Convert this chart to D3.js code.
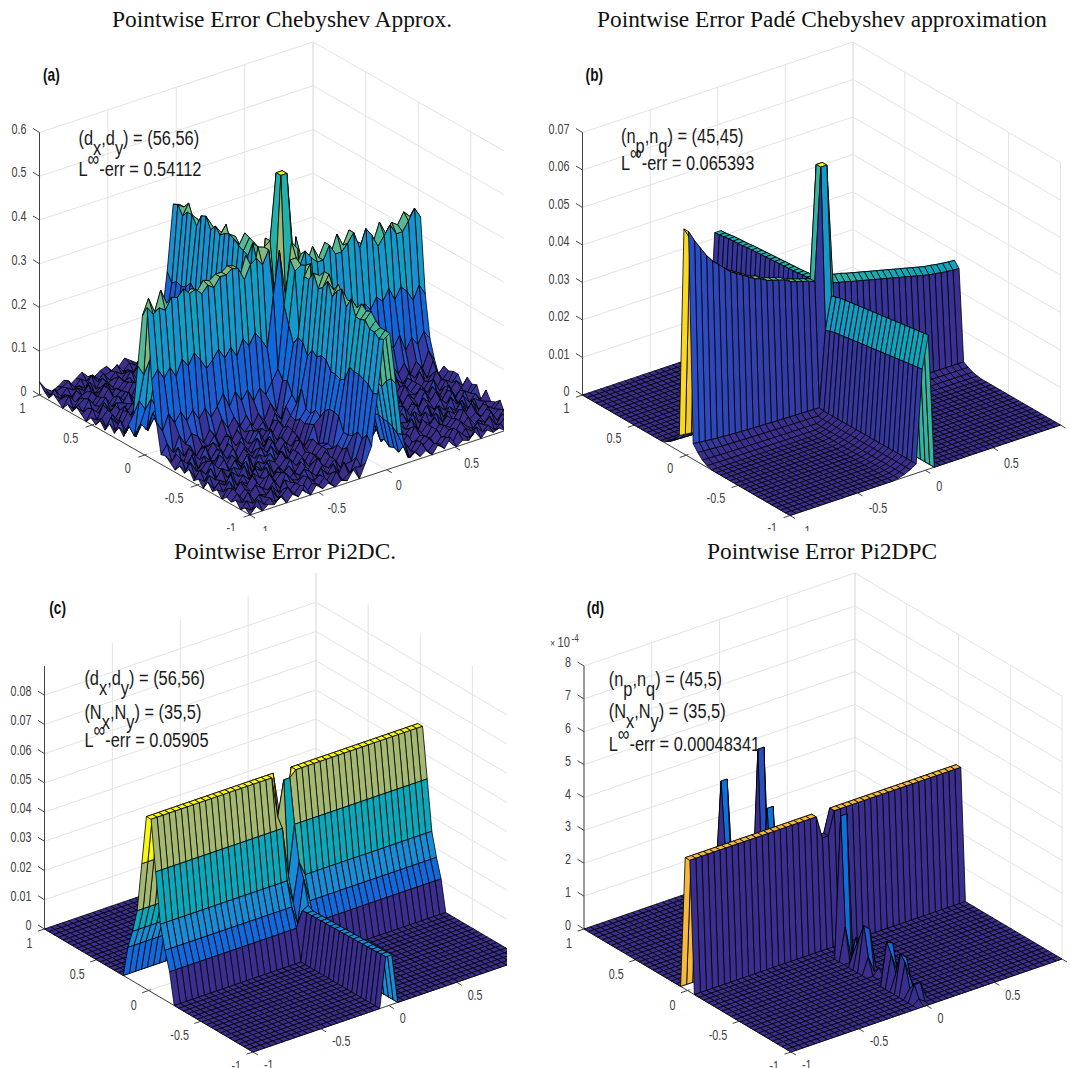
<!DOCTYPE html>
<html>
<head>
<meta charset="utf-8">
<script src="https://cdn.jsdelivr.net/npm/d3@7"></script>
<style>
  body { margin: 0; background: #fff; }
  text { font-family: "Liberation Sans", Arial, sans-serif; }
  .title { font-family: "Liberation Serif", serif; font-size: 24px; fill: #111; }
  .tick { font-size: 14px; fill: #404040; }
  .note { font-size: 21px; fill: #1a1a1a; }
  .tag { font-size: 18px; font-weight: bold; fill: #111; }
</style>
</head>
<body>
<svg id="chart" width="1070" height="1068"></svg>
<script>
// Surface grid: 46 x 46 nodes over [-1,1]^2, ridges sit on nodes 22/23
const nodeCount = 46;
const xyTicks = [-1, -0.5, 0, 0.5, 1];
const zTicksA = [0, 0.1, 0.2, 0.3, 0.4, 0.5, 0.6];
const zTicksB = [0, 0.01, 0.02, 0.03, 0.04, 0.05, 0.06, 0.07];
const zTicksC = [0, 0.01, 0.02, 0.03, 0.04, 0.05, 0.06, 0.07, 0.08];
const zTicksD = [0, 1, 2, 3, 4, 5, 6, 7, 8];

// (a) ridge tops along each ridge, wall steps, floor ripple (digit * 0.005)
const topAlongXA = [.305,.31,.3,.315,.305,.32,.31,.325,.31,.32,.315,.33,.315,.335,.32,.335,.33,.345,.335,.35,.34,.35,.36,.36,.31,.3,.31,.305,.315,.305,.31,.3,.315,.305,.31,.3,.315,.31,.305,.315,.31,.3,.315,.31,.32,.325];
const topAlongYA = [.3,.295,.305,.295,.31,.3,.305,.31,.305,.315,.31,.32,.315,.325,.32,.33,.325,.335,.33,.34,.345,.35,.36,.36,.31,.315,.31,.305,.315,.31,.305,.315,.31,.32,.31,.315,.32,.31,.32,.315,.31,.32,.315,.32,.325,.33];
const wallStepsA = [.165, .06, .012];
const rippleA = [
  "0302140315041302150413025204130415021403120314",
  "2041302514031405024152036140250314052041302503",
  "0314250314052403160425014306152403150314250412",
  "3150214053142051503146250416031425031520315041",
  "1402531406215304250617251406250315042514025130",
  "2503140625031406152407361527041625031406130425",
  "0415260314251503261508270416351406250415261403",
  "3150315260416250415261837160425260315042615032",
  "1426041536025160425370461825160436152604150426",
  "4031526041537260315271936270415361526041625140",
  "0526153604261503726051847160526037260415260536",
  "3160426270537261604815272816370426151637260415",
  "1527360415263715260736948250715263604172516037",
  "5036271526041736271604385163726041526371604252",
  "2614037260517260483716295738160527160436271536",
  "4170526371604827160592648316075260481736250416",
  "1526270418362715384617395827361648271536041725",
  "3607152637481605273948162948371605372816270436",
  "5172604371628473618294758162739482716052637180",
  "2618375162948371629483729461837294615283716294",
  "6183726150492837162749385162738491627384916273",
  "3726184950372618495027386149275038162749385061",
  "7261849372618495037286149385027416938502741693",
  "2839405162738495061728394051627384950617283940",
  "6172839405162738495061728394051627384950617283",
  "3948271605948372610594837261059483726105948372",
  "7162938405172639485071629384051726394850716293",
  "3816270495381627049538162704953816270495381627",
  "6274938150627493815062749381506274938150627493",
  "2716384950271638495027163849502716384950271638",
  "5138274061513827406151382740615138274061513827",
  "1627360415162736041516273604151627360415162736",
  "4051726304405172630440517263044051726304405172",
  "1360425271360425271360425271360425271360425271",
  "3172504163172504163172504163172504163172504163",
  "0526143706052614370605261437060526143706052614",
  "2403615240361524036152403615240361524036152403",
  "4162503141625031416250314162503141625031416250",
  "1350426130504261305042613050426130504261305042",
  "3041526031415260314152603141526031415260314152",
  "0513402510340251034025103402510340251034025103",
  "2304150230415023041502304150230415023041502304",
  "4120314041203140412031404120314041203140412031",
  "1403120514031205140312051403120514031205140312",
  "3012403130124031301240313012403130124031301240",
  "6201302410230142013024102301420130241023014201"
];
const spiresA = [[22,22,.541],[23,22,.541],[22,23,.541],[23,23,.541],[21,21,.38],[21,22,.27],[22,21,.27],[20,20,.12],[20,21,.28],[21,20,.26],[21,24,.39],[24,21,.37],[20,23,.38],[23,20,.36],[24,26,.35],[26,24,.37],[19,22,.35],[22,19,.34],[22,18,.2],[21,19,.22],[23,16,.12],[18,23,.3]];

// (b) ridge tops, wall foot as fractions of the top, central peak
const topAlongXB = [.06,.057,.0545,.052,.05,.0485,.047,.0455,.0445,.0435,.0425,.0415,.041,.04,.0395,.039,.0385,.0375,.037,.0365,.036,.0354,.034,.034,.0335,.033,.0327,.0322,.0318,.0314,.031,.0306,.0302,.0298,.0294,.029,.0286,.0282,.0278,.0274,.027,.0268,.0265,.0263,.0261,.026];
const topAlongYB = [.0358,.0356,.0354,.0352,.035,.0348,.0346,.0344,.0342,.034,.0338,.0336,.0334,.0332,.033,.0328,.0326,.0324,.0322,.032,.0316,.0312,.034,.034,.034,.0339,.0338,.0336,.0335,.0334,.0333,.0332,.0331,.033,.0329,.0328,.0327,.0326,.0325,.0323,.0322,.0321,.032,.0318,.0316,.0315];
const wallFootB = [.07, .042, .02, .007];
const frontTiltB = .0086;   // the y<0 ridge top leans: node 22 sits this far below node 23
const rearTiltB = .0015;    // the x>0 ridge top leans: node j=23 sits this far above j=22
const peakB = [[22,22,.065393],[23,22,.065393],[22,23,.065393],[23,23,.065393]];

// (c) wall steps of the tall ridge, height of the low ridge, centre nodes
const wallStepsC = [.05905, .042, .025, .017, .0106];
const lowRidgeC = [.017,.017,.0168,.0168,.0167,.0167,.0166,.0166,.0165,.0165,.0164,.0164,.0163,.0163,.0162,.0162,.0161,.0161,.016,.016,.0158,.0158];
const centreC = [[21,22,.045],[22,22,.057],[23,22,.057],[22,23,.045],[23,23,.045],[22,21,.025],[23,21,.042],[22,20,.017],[23,20,.03],[22,19,.0106],[23,19,.025],[22,18,.016],[23,18,.017]];

// (d) wall height in units of 1e-4, dip in the wall and the isolated peaks
const wallD = 4.0;
const peaksD = [
  [22,22,3.3],[23,22,3.3],[22,23,3.3],[23,23,3.3],
  [22,44,3.2],[23,44,3.2],[22,43,1],
  [22,36,4.8341],[23,36,4.8341],[22,35,.3],
  [22,34,3.2],[23,34,3.2],[22,33,1],
  [22,18,4.3],[23,18,4.3],[22,17,1],[23,16,.7],[22,15,.5],
  [22,14,.9],[23,14,.8],[22,13,1.38],[23,13,1.2],[22,12,.5],[23,11,.2],
  [22,8,1.3],[23,8,1.2],[22,7,1],[23,7,.4],[22,6,.5],
  [22,5,1.2],[23,5,1],[22,4,1],[23,4,.4],[22,3,.3],
  [22,2,.5],[23,2,.5],[22,1,.15]
];
const darkCellsD = ["21,22", "22,22", "23,22"];   // the dip in the wall is dark throughout

const titles = ["Pointwise Error Chebyshev Approx.", "Pointwise Error Padé Chebyshev approximation", "Pointwise Error Pi2DC.", "Pointwise Error Pi2DPC"];
const tags = ["(a)", "(b)", "(c)", "(d)"];
const notesA = [[["(d"],["x",1],[",d"],["y",1],[") = (56,56)"]], [["L"],["∞",-1],["-err = 0.54112"]]];
const notesB = [[["(n"],["p",1],[",n"],["q",1],[") = (45,45)"]], [["L"],["∞",-1],["-err = 0.065393"]]];
const notesC = [[["(d"],["x",1],[",d"],["y",1],[") = (56,56)"]], [["(N"],["x",1],[",N"],["y",1],[") = (35,5)"]], [["L"],["∞",-1],["-err = 0.05905"]]];
const notesD = [[["(n"],["p",1],[",n"],["q",1],[") = (45,5)"]], [["(N"],["x",1],[",N"],["y",1],[") = (35,5)"]], [["L"],["∞",-1],["-err = 0.00048341"]]];

// colour ramp, as fraction of the panel's largest value
const rampStops = [0, .025, .065, .2, .3, .42, .53, .62, .72, .83, 1];
const rampColors = ["#3a2e8e", "#3a2e8e", "#2a4fc8", "#0c6ee0", "#1a90d2", "#0ca7bb", "#2bb3a3", "#6fbb8a", "#a9b86f", "#f7ba3c", "#f9f90f"];

const svg = d3.select("#chart");
const unit = d3.scaleLinear().domain([-1, 1]).range([0, 1]);
const nodeToAxis = d3.scaleLinear().domain([0, nodeCount - 1]).range([-1, 1]);
const ramp = d3.scaleLinear().domain(rampStops).range(rampColors).clamp(true);
const rowsOff = (k) => (k <= 22 ? 22 - k : k - 23);

function withNodes(base, nodes) {
  const m = d3.range(nodeCount).map((j) => d3.range(nodeCount).map((i) => base(i, j)));
  nodes.forEach(([i, j, z]) => { m[j][i] = z; });
  return m;
}

const surfaceA = withNodes((i, j) => {
  const dj = rowsOff(j), di = rowsOff(i);
  const along = dj === 0 ? topAlongXA[i] : (wallStepsA[dj - 1] || 0);
  const across = di === 0 ? topAlongYA[j] : (wallStepsA[di - 1] || 0);
  return Math.max(along, across) + (+rippleA[j][i] || 0) * 0.005;
}, spiresA);

const surfaceB = withNodes((i, j) => {
  const dj = rowsOff(j);
  const along = dj === 0 ? topAlongXB[i] + (j === 23 && i > 23 ? rearTiltB : 0)
    : topAlongXB[i] * (wallFootB[dj - 1] || 0);
  let across = 0;
  if (i === 23) across = topAlongYB[j];
  else if (i === 22) across = topAlongYB[j] - (j < 22 ? frontTiltB : 0);
  else if (i < 22) across = topAlongYB[j] * (wallFootB[21 - i] || 0);
  return Math.max(along, across);
}, peakB);

const surfaceC = withNodes((i, j) => {
  const along = wallStepsC[rowsOff(j)] || 0;
  const across = (i === 22 || i === 23) && j < 22 ? lowRidgeC[j] : 0;
  return Math.max(along, across);
}, centreC);

const surfaceD = withNodes((i, j) => (rowsOff(j) === 0 ? wallD : 0), peaksD);

function drawPanel(p) {
  const g = svg.append("g");
  g.attr("clip-path", `url(#clip-${p.id})`);
  svg.append("clipPath").attr("id", `clip-${p.id}`).append("rect")
    .attr("x", p.clip[0]).attr("y", p.clip[1])
    .attr("width", p.clip[2] - p.clip[0]).attr("height", p.clip[3] - p.clip[1]);

  const zScale = d3.scaleLinear().domain([0, p.zTop]).range([0, p.height]);
  const project = (x, y, z) => {
    const fx = unit(x), fy = unit(y);
    return [
      p.front[0] + fx * (p.right[0] - p.front[0]) + fy * (p.left[0] - p.front[0]),
      p.front[1] + fx * (p.right[1] - p.front[1]) + fy * (p.left[1] - p.front[1]) - zScale(z)
    ];
  };
  const line = (a, b, color, width) => g.append("line")
    .attr("x1", a[0]).attr("y1", a[1]).attr("x2", b[0]).attr("y2", b[1])
    .attr("stroke", color).attr("stroke-width", width);

  // back walls and floor
  const gridColor = "#e3e3e3";
  p.zTicks.forEach((t) => {
    line(project(-1, 1, t), project(1, 1, t), gridColor, 1);
    line(project(1, 1, t), project(1, -1, t), gridColor, 1);
  });
  xyTicks.forEach((t) => {
    line(project(t, 1, 0), project(t, 1, p.zTop), gridColor, 1);
    line(project(1, t, 0), project(1, t, p.zTop), gridColor, 1);
    line(project(t, -1, 0), project(t, 1, 0), gridColor, 1);
    line(project(-1, t, 0), project(1, t, 0), gridColor, 1);
  });

  // axes and tick marks
  const axisColor = "#444";
  line(project(-1, 1, 0), project(-1, 1, p.zTop), axisColor, 1);
  line(project(-1, -1, 0), project(-1, 1, 0), axisColor, 1);
  line(project(-1, -1, 0), project(1, -1, 0), axisColor, 1);
  p.zTicks.forEach((t) => {
    const [x, y] = project(-1, 1, t);
    line([x, y], [x - 6.5, y - 4], axisColor, 1);
    g.append("text").attr("class", "tick")
      .attr("transform", `translate(${x - 13},${y - 4}) scale(.77,1)`)
      .attr("text-anchor", "end").attr("dy", ".36em").text(t);
  });
  xyTicks.forEach((t) => {
    const [ax, ay] = project(-1, t, 0);
    line([ax - 6.5, ay + 2.2], [ax + 2, ay - 0.7], axisColor, 1);
    g.append("text").attr("class", "tick")
      .attr("transform", `translate(${ax - 14 + p.nudgeY[0]},${ay + 12.5 + p.nudgeY[1]}) scale(.77,1)`)
      .attr("text-anchor", "end").attr("dy", ".36em").text(t);
    const [bx, by] = project(t, -1, 0);
    line([bx, by], [bx + 5, by + 3], axisColor, 1);
    g.append("text").attr("class", "tick")
      .attr("transform", `translate(${bx + 9 + p.nudgeX[0]},${by + 15.5 + p.nudgeX[1]}) scale(.77,1)`)
      .attr("text-anchor", "start").attr("dy", ".36em").text(t);
  });

  // surface: back cells first, colour taken from each cell's low corner
  const cells = [];
  for (let j = nodeCount - 2; j >= 0; j--) {
    for (let i = nodeCount - 2; i >= 0; i--) cells.push([i, j]);
  }
  const dark = p.darkCells || [];
  const pt = (i, j) => project(nodeToAxis(i), nodeToAxis(j), p.surface[j][i]);
  g.append("g").selectAll("path").data(cells).join("path")
    .attr("d", ([i, j]) => "M" + [pt(i, j), pt(i + 1, j), pt(i + 1, j + 1), pt(i, j + 1)].map((c) => c[0].toFixed(2) + "," + c[1].toFixed(2)).join("L") + "Z")
    .attr("fill", ([i, j]) => ramp(dark.includes(i + "," + j) ? 0 : p.surface[j][i] / p.zMax))
    .attr("stroke", "#000").attr("stroke-width", 0.8).attr("stroke-linejoin", "round");

  // texts
  svg.append("text").attr("class", "title")
    .attr("x", p.title[0]).attr("y", p.title[2])
    .attr("textLength", p.title[1] - p.title[0]).attr("lengthAdjust", "spacingAndGlyphs")
    .text(titles[p.id]);
  svg.append("text").attr("class", "tag")
    .attr("transform", `translate(${p.tag[0]},${p.tag[1]}) scale(.76,1)`).text(tags[p.id]);
  p.notes.forEach((parts, n) => {
    const text = svg.append("text").attr("class", "note")
      .attr("transform", `translate(${p.noteX},${p.noteY[n]}) scale(.78,1)`);
    let shift = 0;
    parts.forEach(([s, mode]) => {
      const target = mode === 1 ? 10 : mode === -1 ? -10 : 0;
      text.append("tspan").attr("dy", target - shift).text(s);
      shift = target;
    });
  });
}

const panels = [
  { id: 0, surface: surfaceA, zMax: .54112, zTop: .6, zTicks: zTicksA,
    left: [39.5, 395], front: [250, 515], right: [523.5, 424.5], height: 262.5, nudgeX: [0, 0], nudgeY: [0, 0],
    clip: [0, 0, 504, 531], title: [112, 452, 27], tag: [43, 81], notes: notesA, noteX: 78.5, noteY: [145, 176] },
  { id: 1, surface: surfaceB, zMax: .065393, zTop: .07, zTicks: zTicksB,
    left: [582.5, 395], front: [790, 515.5], right: [1060.5, 425], height: 262.5, nudgeX: [2, 0], nudgeY: [1, 0],
    clip: [540, 0, 1068, 531], title: [597, 1047, 27], tag: [585.6, 81], notes: notesB, noteX: 621, noteY: [143, 170] },
  { id: 2, surface: surfaceC, zMax: .05905, zTop: .09, zTicks: zTicksC,
    left: [44.5, 929], front: [253, 1052], right: [524.5, 959], height: 263, nudgeX: [2, -3], nudgeY: [2, 1.5],
    clip: [0, 535, 507, 1068], title: [174, 396, 559], tag: [49.3, 613.5], notes: notesC, noteX: 84.4, noteY: [685, 719, 746.6] },
  { id: 3, surface: surfaceD, zMax: 4.8341, zTop: 8, zTicks: zTicksD,
    left: [584, 929], front: [791, 1052], right: [1062, 959], height: 263, nudgeX: [2, -3], nudgeY: [2, 1.5], darkCells: darkCellsD,
    clip: [540, 535, 1068, 1068], title: [707, 937, 559], tag: [586.7, 613.5], notes: notesD, noteX: 608.7, noteY: [686, 718, 751] }
];
panels.forEach(drawPanel);

// axis multiplier of panel (d)
const mult = svg.append("text").attr("class", "tick").attr("transform", "translate(550,647) scale(.8,1)");
mult.append("tspan").attr("font-size", 11).text("× ");
mult.append("tspan").text("10");
mult.append("tspan").attr("font-size", 10).attr("dy", -5).attr("dx", 2).text("-4");
</script>
</body>
</html>
